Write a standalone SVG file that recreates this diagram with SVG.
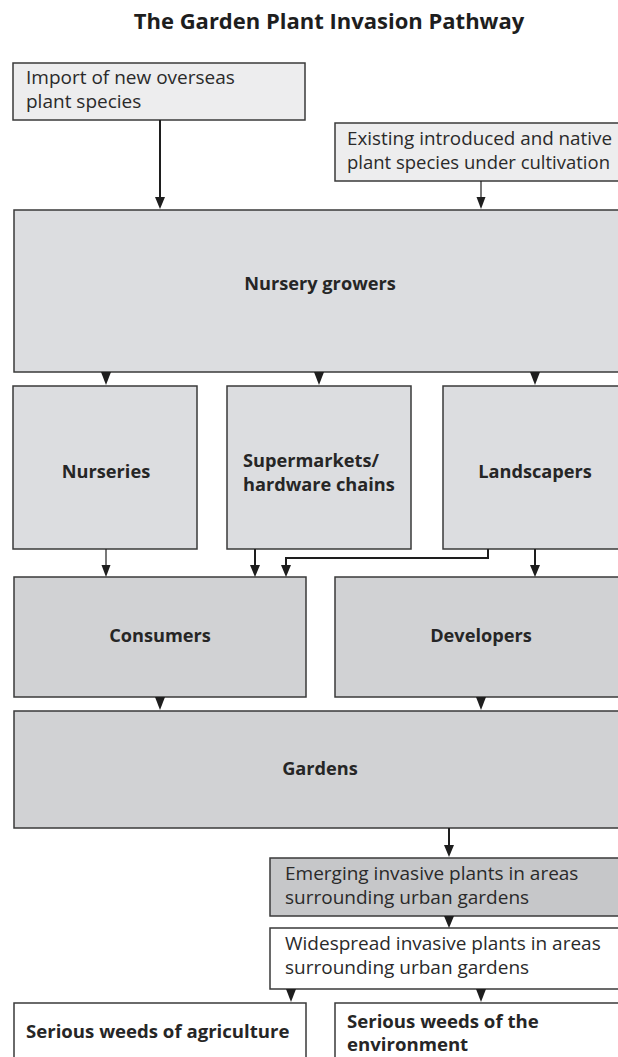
<svg xmlns="http://www.w3.org/2000/svg" width="618" height="1057" viewBox="0 0 618 1057">
  <defs>
    <style>
      .box { stroke: #3a3a3a; stroke-width: 1.5; }
      .pale { fill: #ededee; }
      .grey { fill: #dcdde0; }
      .mid { fill: #d1d2d4; }
      .dark { fill: #c6c7c9; }
      .white { fill: #ffffff; }
      .t { font-family: "Open Sans", "Liberation Sans", sans-serif; font-size: 19px; fill: #2a2a2a; }
      .b { font-family: "Open Sans", "Liberation Sans", sans-serif; font-size: 18.2px; font-weight: 700; fill: #262626; }
      .big { font-size: 18.6px; }
      .title { font-family: "Open Sans", "Liberation Sans", sans-serif; font-size: 22px; font-weight: 700; fill: #1e1e1e; }
      .thick { fill: none; stroke: #1e1e1e; stroke-width: 2; }
      .thin { fill: none; stroke: #1e1e1e; stroke-width: 1.2; }
      .head { fill: #1e1e1e; }
    </style>
  </defs>

  <text class="title" x="329" y="29" text-anchor="middle">The Garden Plant Invasion Pathway</text>

  <g id="import">
    <rect class="box pale" x="13" y="63" width="292" height="57"/>
    <text class="t"><tspan x="26" y="84">Import of new overseas</tspan><tspan x="26" y="107.5">plant species</tspan></text>
  </g>

  <g id="existing">
    <rect class="box pale" x="335" y="123" width="295" height="58"/>
    <text class="t"><tspan x="347" y="145" textLength="265" lengthAdjust="spacingAndGlyphs">Existing introduced and native</tspan><tspan x="347" y="168.5" textLength="263" lengthAdjust="spacingAndGlyphs">plant species under cultivation</tspan></text>
  </g>

  <g id="nursery-growers">
    <rect class="box grey" x="14" y="210" width="620" height="162"/>
    <text class="b" x="320" y="290" text-anchor="middle">Nursery growers</text>
  </g>

  <g id="nurseries">
    <rect class="box grey" x="13" y="386" width="184" height="163"/>
    <text class="b" x="106" y="478" text-anchor="middle">Nurseries</text>
  </g>

  <g id="supermarkets">
    <rect class="box grey" x="227" y="386" width="184" height="163"/>
    <text class="b"><tspan x="243" y="467">Supermarkets/</tspan><tspan x="243" y="491">hardware chains</tspan></text>
  </g>

  <g id="landscapers">
    <rect class="box grey" x="443" y="386" width="190" height="163"/>
    <text class="b" x="535" y="478" text-anchor="middle">Landscapers</text>
  </g>

  <g id="consumers">
    <rect class="box mid" x="14" y="577" width="292" height="120"/>
    <text class="b" x="160" y="642" text-anchor="middle">Consumers</text>
  </g>

  <g id="developers">
    <rect class="box mid" x="335" y="577" width="295" height="120"/>
    <text class="b" x="481" y="642" text-anchor="middle">Developers</text>
  </g>

  <g id="gardens">
    <rect class="box mid" x="14" y="711" width="620" height="117"/>
    <text class="b" x="320" y="775" text-anchor="middle">Gardens</text>
  </g>

  <g id="emerging">
    <rect class="box dark" x="270" y="858" width="360" height="58"/>
    <text class="t"><tspan x="285" y="880">Emerging invasive plants in areas</tspan><tspan x="285" y="903.5">surrounding urban gardens</tspan></text>
  </g>

  <g id="widespread">
    <rect class="box white" x="270" y="928" width="360" height="61"/>
    <text class="t"><tspan x="285" y="950">Widespread invasive plants in areas</tspan><tspan x="285" y="973.5">surrounding urban gardens</tspan></text>
  </g>

  <g id="weeds-agriculture">
    <rect class="box white" x="14" y="1003" width="292" height="70"/>
    <text class="b big" x="26" y="1038">Serious weeds of agriculture</text>
  </g>

  <g id="weeds-environment">
    <rect class="box white" x="335" y="1003" width="295" height="70"/>
    <text class="b big"><tspan x="347" y="1028">Serious weeds of the</tspan><tspan x="347" y="1051">environment</tspan></text>
  </g>

  <g id="connectors">
    <!-- stems with heads -->
    <path class="thick" d="M160,120 V198"/>
    <polygon class="head" points="155,197 165,197 160,209"/>
    <path class="thin" d="M481,181 V198"/>
    <polygon class="head" points="476.5,197 485.5,197 481,209"/>

    <!-- heads straight off the nursery growers box -->
    <polygon class="head" points="101,372 111,372 106,385"/>
    <polygon class="head" points="314,372 324,372 319,385"/>
    <polygon class="head" points="530,372 540,372 535,385"/>

    <path class="thin" d="M106,549 V566"/>
    <polygon class="head" points="101.5,565 110.5,565 106,577"/>
    <path class="thick" d="M255,549 V566"/>
    <polygon class="head" points="250,565 260,565 255,577"/>
    <path class="thick" d="M488,549 V558 H286 V566"/>
    <polygon class="head" points="281,565 291,565 286,577"/>
    <path class="thick" d="M535,549 V566"/>
    <polygon class="head" points="530,565 540,565 535,577"/>

    <polygon class="head" points="155,697 165,697 160,710"/>
    <polygon class="head" points="476,697 486,697 481,710"/>

    <path class="thick" d="M449,828 V846"/>
    <polygon class="head" points="444,845 454,845 449,857"/>

    <polygon class="head" points="444,916 454,916 449,928"/>

    <polygon class="head" points="286,989 296,989 291,1002"/>
    <polygon class="head" points="476,989 486,989 481,1002"/>
  </g>
</svg>
